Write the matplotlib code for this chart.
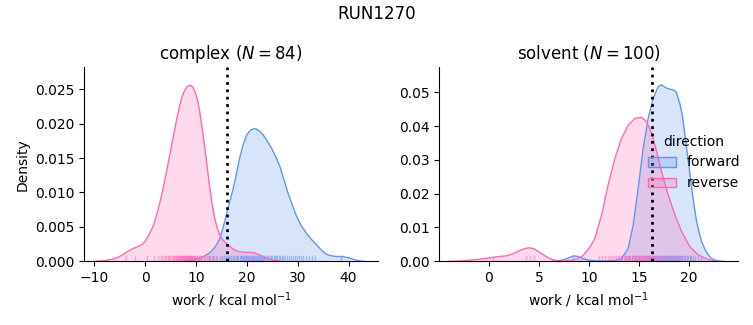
import matplotlib
matplotlib.use("Agg")
import matplotlib.pyplot as plt
from matplotlib.patches import Patch
from matplotlib.colors import to_rgb

# ---------------- data ----------------
directions = ["forward", "reverse"]
colors = {"forward": "#6495ED", "reverse": "#FF69B4"}

# complex panel: KDE curves (x, density)
cx_fwd_x = [8.0, 10.1, 11.5, 12.7, 13.8, 14.7, 15.5, 16.3, 17.0, 17.65, 18.6, 19.3, 20.0, 20.8,
            21.6, 22.4, 23.2, 24.0, 24.9, 25.7, 26.5, 27.3, 28.1, 29.0, 29.8, 30.7, 31.7, 32.7,
            33.7, 34.7, 35.7, 36.6, 37.6, 38.9, 40.0, 40.9, 42.0, 43.0]
cx_fwd_y = [0.0, 0.0003, 0.0007, 0.0012, 0.0021, 0.0033, 0.0053, 0.0077, 0.0096, 0.0116, 0.0150,
            0.0170, 0.0184, 0.0191, 0.0193, 0.0190, 0.0184, 0.0175, 0.0164, 0.0152, 0.0138,
            0.0119, 0.0099, 0.0081, 0.0065, 0.0052, 0.0041, 0.0032, 0.0024, 0.0016, 0.0010,
            0.0008, 0.0007, 0.0007, 0.0005, 0.0003, 0.0001, 0.0]
cx_rev_x = [-10.0, -8.0, -6.5, -5.5, -4.5, -3.5, -2.5, -1.5, -0.5, 0.1, 0.95, 1.7, 2.26, 2.9,
            3.56, 4.2, 4.88, 5.4, 5.86, 6.35, 6.84, 7.3, 7.83, 8.3, 8.81, 9.3, 9.79, 10.3,
            10.77, 11.25, 11.76, 12.25, 12.74, 13.2, 13.7, 14.2, 14.7, 15.3, 16.0, 16.6, 17.3,
            18.0, 18.6, 19.6, 20.6, 21.6, 22.6, 23.5, 24.5, 25.7, 27.0]
cx_rev_y = [0.0, 0.0001, 0.0003, 0.0005, 0.0009, 0.0014, 0.0018, 0.0021, 0.0025, 0.0030, 0.0041,
            0.0053, 0.0067, 0.0085, 0.0106, 0.0130, 0.0155, 0.0175, 0.0193, 0.0211, 0.0227,
            0.0240, 0.0249, 0.0254, 0.0256, 0.0254, 0.0247, 0.0235, 0.0217, 0.0192, 0.0164,
            0.0135, 0.0106, 0.0083, 0.0062, 0.0048, 0.0038, 0.0031, 0.0026, 0.0022, 0.0018,
            0.0015, 0.0014, 0.0013, 0.0013, 0.0012, 0.0009, 0.0006, 0.0003, 0.0001, 0.0]
cx_dg = 16.1

# solvent panel: KDE curves (x, density)
sv_fwd_x = [6.3, 7.0, 7.6, 8.1, 8.5, 8.9, 9.4, 10.0, 10.8, 11.8, 12.6, 13.25, 13.9, 14.4, 14.9,
            15.4, 15.9, 16.4, 16.9, 17.24, 17.74, 18.1, 18.4, 18.7, 18.9, 19.1, 19.3, 19.5,
            19.74, 20.0, 20.24, 20.5, 20.74, 21.0, 21.24, 21.6, 21.9, 22.2, 22.57, 23.0, 23.4]
sv_fwd_y = [0.0, 0.0002, 0.0006, 0.0012, 0.0016, 0.0014, 0.0008, 0.0003, 0.0001, 0.0001, 0.0002,
            0.0008, 0.0038, 0.0107, 0.0216, 0.0334, 0.0423, 0.0482, 0.0517, 0.0522, 0.0512,
            0.0509, 0.0507, 0.0500, 0.0482, 0.0462, 0.0433, 0.0390, 0.0334, 0.0275, 0.0216,
            0.0162, 0.0117, 0.0084, 0.0058, 0.0033, 0.0019, 0.0009, 0.0003, 0.0001, 0.0]
sv_rev_x = [-4.0, -3.0, -2.0, -1.0, 0.0, 1.0, 1.7, 2.4, 3.0, 3.5, 4.0, 4.5, 5.0, 5.5, 6.0, 6.5,
            7.0, 7.7, 8.3, 8.8, 9.3, 9.7, 10.1, 10.58, 11.25, 11.9, 12.58, 13.25, 13.9, 14.58,
            15.25, 15.75, 16.25, 16.75, 17.24, 17.9, 18.57, 19.24, 20.07, 20.9, 21.9, 22.5]
sv_rev_y = [0.0, 0.0001, 0.0003, 0.0006, 0.0010, 0.0014, 0.0016, 0.0022, 0.0031, 0.0037, 0.0040,
            0.0037, 0.0028, 0.0018, 0.0009, 0.0004, 0.0001, 0.0001, 0.0003, 0.0007, 0.0015,
            0.0027, 0.0043, 0.0068, 0.0137, 0.0226, 0.0305, 0.0364, 0.0403, 0.0423, 0.0426,
            0.0413, 0.0379, 0.0324, 0.0265, 0.0196, 0.0137, 0.0088, 0.0043, 0.0019, 0.0005, 0.0]
sv_dg = 16.25

# rug values
cx_fwd_rug = [12.5, 13.4, 14.0, 14.8, 15.2, 15.6, 16.0, 16.3, 16.6, 16.9, 17.2, 17.5, 17.8, 18.1,
              18.3, 18.6, 18.8, 19.0, 19.2, 19.4, 19.6, 19.8, 20.0, 20.2, 20.4, 20.6, 20.8, 21.0,
              21.2, 21.4, 21.6, 21.8, 22.0, 22.2, 22.4, 22.6, 22.8, 23.0, 23.2, 23.4, 23.6, 23.9,
              24.2, 24.5, 24.8, 25.0, 25.3, 25.5, 25.8, 26.0, 26.3, 26.6, 26.9, 27.2, 27.5, 27.9,
              28.3, 28.6, 29.0, 29.4, 29.9, 30.3, 30.7, 31.0, 31.6, 32.2, 32.8, 33.4, 38.5]
cx_rev_rug = [-3.8, -2.0, 0.4, 1.8, 2.6, 3.2, 3.6, 3.9, 4.2, 4.5, 4.8, 5.0, 5.3, 5.5, 5.7, 5.9,
              6.0, 6.2, 6.3, 6.5, 6.6, 6.8, 6.9, 7.0, 7.1, 7.3, 7.4, 7.5, 7.6, 7.7, 7.8, 7.9,
              8.0, 8.1, 8.2, 8.3, 8.4, 8.5, 8.6, 8.7, 8.8, 8.9, 9.0, 9.1, 9.2, 9.3, 9.4, 9.5,
              9.6, 9.8, 9.9, 10.1, 10.2, 10.4, 10.6, 10.8, 11.0, 11.2, 11.5, 11.8, 12.1, 12.5,
              12.8, 13.2, 13.6, 14.2, 21.0]
sv_fwd_rug = [8.4, 13.2, 13.7, 14.0, 14.3, 14.6, 14.8, 15.0, 15.2, 15.4, 15.6, 15.7, 15.9, 16.0,
              16.1, 16.3, 16.4, 16.5, 16.6, 16.7, 16.8, 16.9, 17.0, 17.1, 17.2, 17.3, 17.4, 17.5,
              17.6, 17.7, 17.8, 17.9, 18.0, 18.1, 18.2, 18.3, 18.4, 18.5, 18.6, 18.7, 18.8, 18.9,
              19.0, 19.1, 19.2, 19.3, 19.5, 19.6, 19.8, 19.9, 20.1, 20.2, 20.4, 20.6, 20.9, 21.2]
sv_rev_rug = [0.4, 3.7, 4.1, 4.5, 11.0, 11.3, 11.6, 11.9, 12.1, 12.3, 12.5, 12.7, 12.9, 13.0,
              13.2, 13.3, 13.5, 13.6, 13.8, 13.9, 14.0, 14.1, 14.3, 14.4, 14.5, 14.6, 14.7, 14.8,
              14.9, 15.0, 15.1, 15.2, 15.3, 15.4, 15.5, 15.6, 15.7, 15.8, 15.9, 16.0, 16.1, 16.3,
              16.4, 16.6, 16.7, 16.9, 17.0, 17.2, 17.4, 17.6, 17.8, 18.1, 18.3, 18.6, 18.9, 19.3,
              19.6, 20.1]

panels = [
    dict(title=r"complex ($N = 84$)", curves={"forward": (cx_fwd_x, cx_fwd_y, cx_fwd_rug),
                                               "reverse": (cx_rev_x, cx_rev_y, cx_rev_rug)},
         dg=cx_dg, xlim=(-12.0, 45.8), ylim=(0, 0.0282), xticks=[-10, 0, 10, 20, 30, 40],
         yticks=[0, 0.005, 0.010, 0.015, 0.020, 0.025], yfmt="{:.3f}"),
    dict(title=r"solvent ($N = 100$)", curves={"forward": (sv_fwd_x, sv_fwd_y, sv_fwd_rug),
                                                "reverse": (sv_rev_x, sv_rev_y, sv_rev_rug)},
         dg=sv_dg, xlim=(-4.96, 24.9), ylim=(0, 0.0574), xticks=[0, 5, 10, 15, 20],
         yticks=[0, 0.01, 0.02, 0.03, 0.04, 0.05], yfmt="{:.2f}"),
]

# ---------------- plot ----------------
fig = plt.figure(figsize=(7.53, 3.25), dpi=100)
axes = [fig.add_axes([0.1116, 0.196, 0.3904, 0.597]),
        fig.add_axes([0.5834, 0.196, 0.3971, 0.597])]

for ax, p in zip(axes, panels):
    for d in directions:
        xs, ys, rug = p["curves"][d]
        c = colors[d]
        ax.fill_between(xs, ys, 0, color=c, alpha=0.25, lw=0)
        ax.plot(xs, ys, color=c, lw=1.0)
        for r in rug:
            ax.axvline(r, ymin=0, ymax=0.025, color=c, lw=1, alpha=0.5)
    ax.axvline(p["dg"], color="black", ls=":", lw=2)
    ax.set_xlim(*p["xlim"])
    ax.set_ylim(*p["ylim"])
    ax.set_xticks(p["xticks"])
    ax.set_yticks(p["yticks"])
    ax.set_yticklabels([p["yfmt"].format(v) for v in p["yticks"]])
    ax.set_title(p["title"], fontsize=12)
    ax.set_xlabel(r"work / kcal mol$^{-1}$")
    ax.spines["top"].set_visible(False)
    ax.spines["right"].set_visible(False)

axes[0].set_ylabel("Density")
fig.suptitle("RUN1270", fontsize=12, y=0.985)

handles = [Patch(facecolor=(*to_rgb(colors[d]), 0.25), edgecolor=colors[d], lw=1)
           for d in directions]
fig.legend(handles, directions, title="direction", loc="center right",
           bbox_to_anchor=(1.0, 0.5), frameon=False)

fig.savefig("out.png", dpi=100)
